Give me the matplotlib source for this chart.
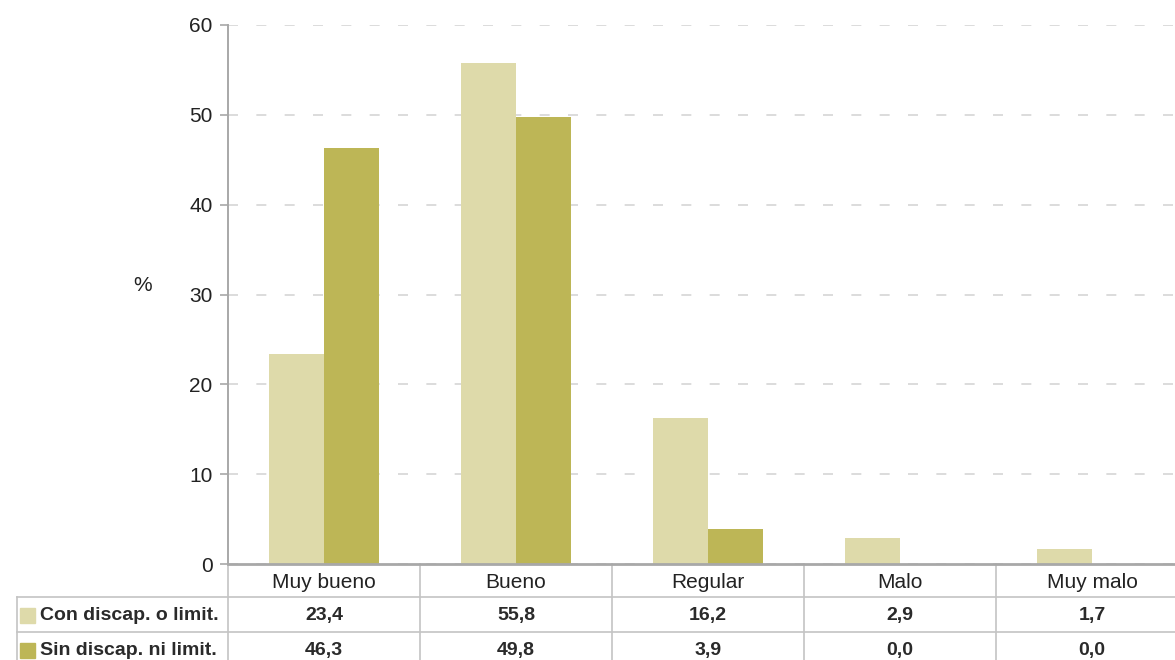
import matplotlib.pyplot as plt
from matplotlib.patches import Rectangle

# Estado de salud percibido, en %
categorias = ['Muy bueno', 'Bueno', 'Regular', 'Malo', 'Muy malo']
series = ['Con discap. o limit.', 'Sin discap. ni limit.']
con_discap = [23.4, 55.8, 16.2, 2.9, 1.7]
sin_discap = [46.3, 49.8, 3.9, 0.0, 0.0]
yticks = [0, 10, 20, 30, 40, 50, 60]

colores = ['#DEDAAA', '#BDB656']
gris_eje = '#A8A8A8'
gris_tabla = '#C4C4C4'
texto = '#222222'

plt.rcParams['font.family'] = ['Liberation Sans Narrow', 'Liberation Sans', 'DejaVu Sans']

fig = plt.figure(figsize=(11.75, 6.6), dpi=100)
ax = fig.add_axes([228 / 1175, 96 / 660, 960 / 1175, 539 / 660])

x = range(len(categorias))
w = 0.286
ax.bar([i - w / 2 for i in x], con_discap, width=w, color=colores[0], zorder=3)
ax.bar([i + w / 2 for i in x], sin_discap, width=w, color=colores[1], zorder=3)

ax.set_xlim(-0.5, len(categorias) - 0.5)
ax.set_ylim(0, 60)
ax.set_yticks(yticks)
ax.set_yticklabels([str(t) for t in yticks], fontsize=15, color=texto,
                   family=['Liberation Sans', 'DejaVu Sans'])
ax.set_xticks([])
ax.tick_params(axis='y', length=6, width=1.2, color=gris_eje, pad=5)
ax.yaxis.grid(True, color='#D6D6D6', linestyle=(0, (6, 11)), linewidth=1.2, zorder=0)

for s in ['top', 'right']:
    ax.spines[s].set_visible(False)
ax.spines['left'].set_color(gris_eje)
ax.spines['left'].set_linewidth(1.4)
ax.spines['bottom'].set_color(gris_eje)
ax.spines['bottom'].set_linewidth(2)
ax.spines['bottom'].set_zorder(4)

fig.text(143 / 1175, 1 - 285 / 660, '%', fontsize=15, color=texto,
         ha='center', va='center', family=['Liberation Sans', 'DejaVu Sans'])

# Tabla de datos bajo el eje
trans = ax.get_xaxis_transform()
px = 1 / 539  # un píxel en fracción del eje
filas_y = [0, -33 * px, -68 * px, -103 * px]
x_izq = -0.5 - 211 / 192
x_der = len(categorias) - 0.5

for yl in filas_y[1:]:
    ax.plot([x_izq, x_der], [yl, yl], color=gris_tabla, lw=1.2,
            transform=trans, clip_on=False)
for i in range(len(categorias)):
    ax.plot([i - 0.5, i - 0.5], [0, filas_y[-1]], color=gris_tabla, lw=1.2,
            transform=trans, clip_on=False)
ax.plot([x_izq, x_izq], [filas_y[1], filas_y[-1]], color=gris_tabla, lw=1.2,
        transform=trans, clip_on=False)

yc_cab = (filas_y[0] + filas_y[1]) / 2 - 1.5 * px
for i, c in enumerate(categorias):
    ax.text(i, yc_cab, c, transform=trans, ha='center', va='center',
            fontsize=15, color=texto, clip_on=False)

for r, (nombre, valores) in enumerate(zip(series, [con_discap, sin_discap])):
    yc = (filas_y[r + 1] + filas_y[r + 2]) / 2 - 1 * px
    ax.add_patch(Rectangle((x_izq + 3 / 192, yc - 7.5 * px), 15 / 192, 15 * px,
                           transform=trans, color=colores[r], clip_on=False))
    ax.text(x_izq + 23 / 192, yc, nombre, transform=trans, ha='left',
            va='center', fontsize=14, fontweight='bold', color='#2a2a2a',
            clip_on=False)
    for i, v in enumerate(valores):
        ax.text(i, yc, f'{v:.1f}'.replace('.', ','), transform=trans,
                ha='center', va='center', fontsize=14, fontweight='bold',
                color='#2a2a2a', clip_on=False)

fig.savefig('out.png', dpi=100)
